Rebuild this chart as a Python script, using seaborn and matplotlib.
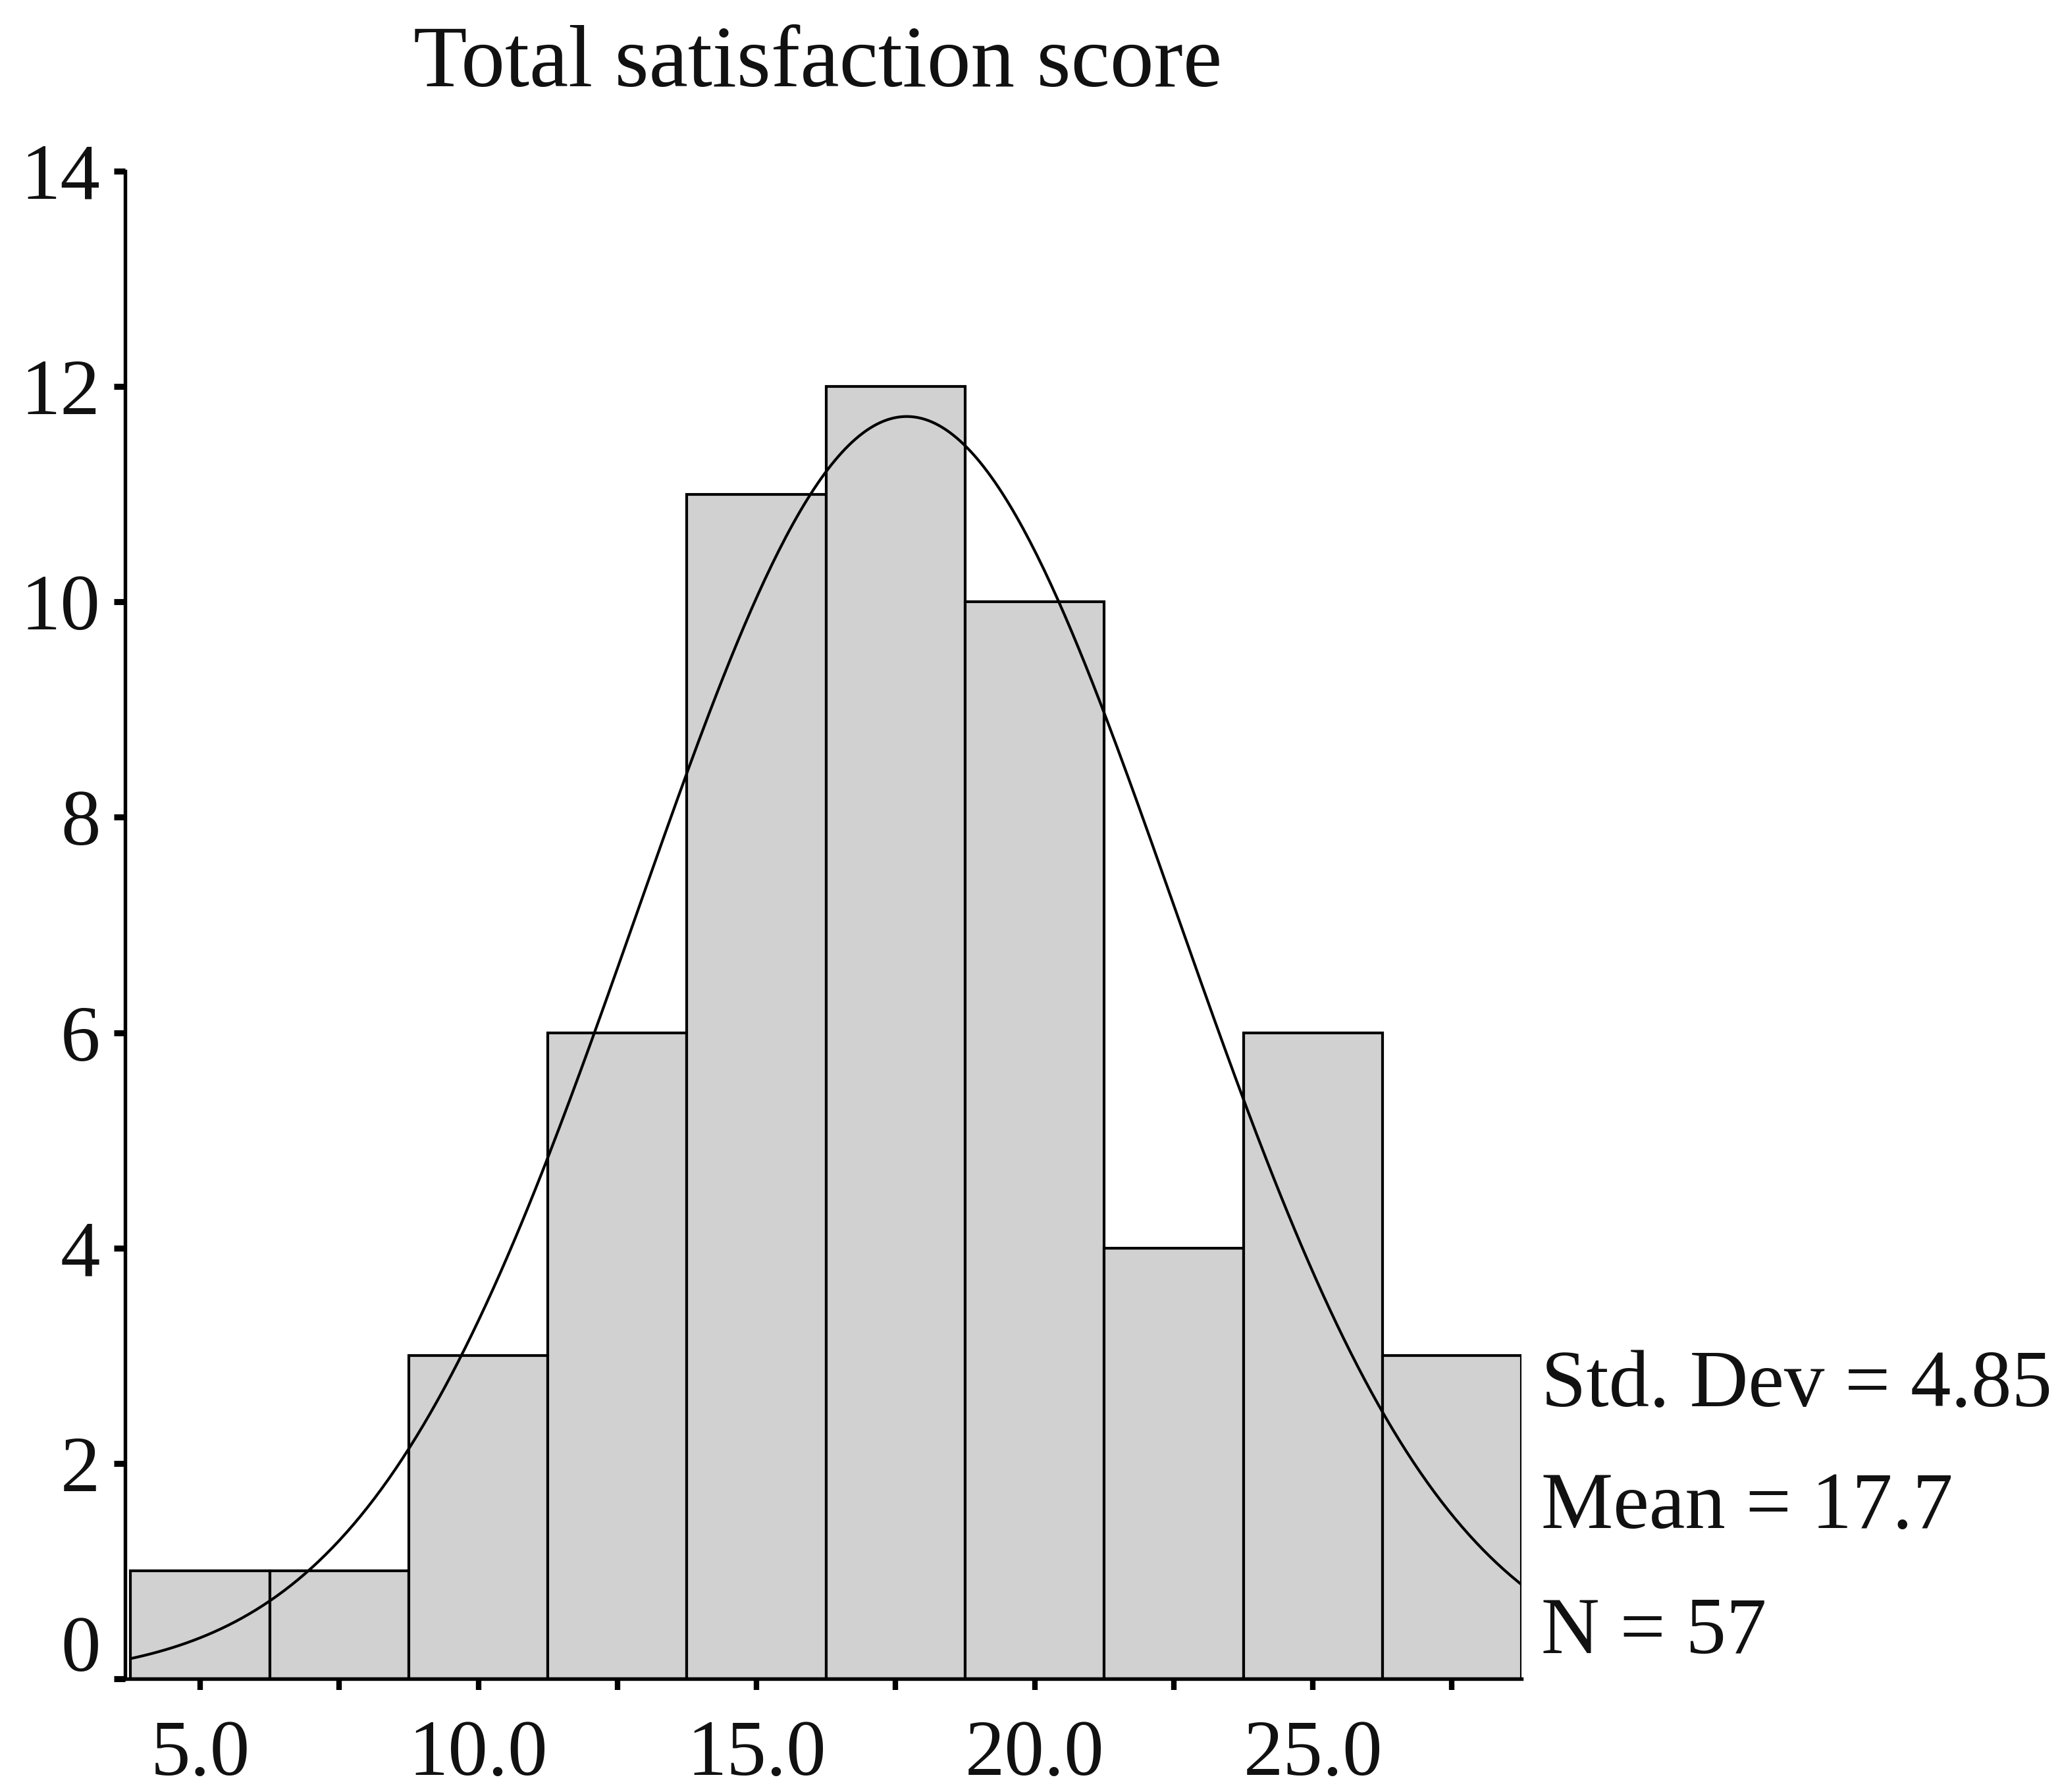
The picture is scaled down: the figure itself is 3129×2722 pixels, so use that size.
import numpy as np
import pandas as pd
import matplotlib
matplotlib.use("Agg")
import matplotlib.pyplot as plt
import matplotlib.transforms as mtransforms
import seaborn as sns

# Histogram of total satisfaction scores (bin centres and frequencies)
bin_centers = [5.0, 7.5, 10.0, 12.5, 15.0, 17.5, 20.0, 22.5, 25.0, 27.5]
counts = [1, 1, 3, 6, 11, 12, 10, 4, 6, 3]
bin_width = 2.5

# Summary statistics shown beside the plot
std_dev = 4.85
mean_score = 17.7
n_total = 57

x_label_values = [5.0, 10.0, 15.0, 20.0, 25.0]
y_tick_values = [0, 2, 4, 6, 8, 10, 12, 14]
title_text = "Total satisfaction score"

sns.set_theme(style="ticks")
plt.rcParams["font.family"] = ["Liberation Serif", "DejaVu Serif"]
plt.rcParams["axes.linewidth"] = 1.3

fig = plt.figure(figsize=(3129 / 300, 2722 / 300), dpi=300)
fig.patch.set_facecolor("white")
ax = fig.add_axes([0.0607, 0.0632, 0.6779, 0.8413])
ax.set_facecolor("white")

edges = [c - bin_width / 2 for c in bin_centers] + [bin_centers[-1] + bin_width / 2]
df = pd.DataFrame({"score": bin_centers, "count": counts})
sns.histplot(data=df, x="score", weights="count", bins=edges,
             color="#d1d1d1", alpha=1.0, edgecolor="black", linewidth=1.0,
             ax=ax)

# Fitted normal curve scaled to frequency
xs = np.linspace(edges[0], edges[-1], 400)
ys = n_total * bin_width * np.exp(-0.5 * ((xs - mean_score) / std_dev) ** 2) / (std_dev * np.sqrt(2 * np.pi))
sns.lineplot(x=xs, y=ys, color="black", linewidth=1.0, ax=ax)

ax.set_xlim(3.65, edges[-1])
ax.set_ylim(0, 14)
sns.despine(ax=ax)
for side in ("left", "bottom"):
    ax.spines[side].set_color("black")

ax.set_xticks(bin_centers)
ax.set_xticklabels([f"{c:.1f}" if c in x_label_values else "" for c in bin_centers])
ax.set_yticks(y_tick_values)
ax.set_yticklabels([str(v) for v in y_tick_values])
ax.tick_params(axis="x", direction="out", length=4, width=2, color="black",
               labelsize=29, pad=11, labelcolor="#111111")
ax.tick_params(axis="y", direction="out", length=4, width=2.2, color="black",
               labelsize=29, pad=5, labelcolor="#111111")
ax.set_xlabel("")
ax.set_ylabel("")

# The zero label sits a little above its tick
for lab in ax.get_yticklabels():
    if lab.get_text() == "0":
        lab.set_transform(lab.get_transform() +
                          mtransforms.ScaledTranslation(0, 13 / 72, fig.dpi_scale_trans))

fig.text(0.397, 0.952, title_text, ha="center", va="baseline",
         fontsize=32, color="#111111")

stats = [f"Std. Dev = {std_dev:.2f}", f"Mean = {mean_score:.1f}", f"N = {n_total}"]
stat_y = [2.71, 1.58, 0.42]
for s, yv in zip(stats, stat_y):
    ax.text(29.1, yv, s, ha="left", va="center", fontsize=29.5,
            color="#111111", clip_on=False)

fig.savefig("out.png", dpi=300, facecolor="white")
